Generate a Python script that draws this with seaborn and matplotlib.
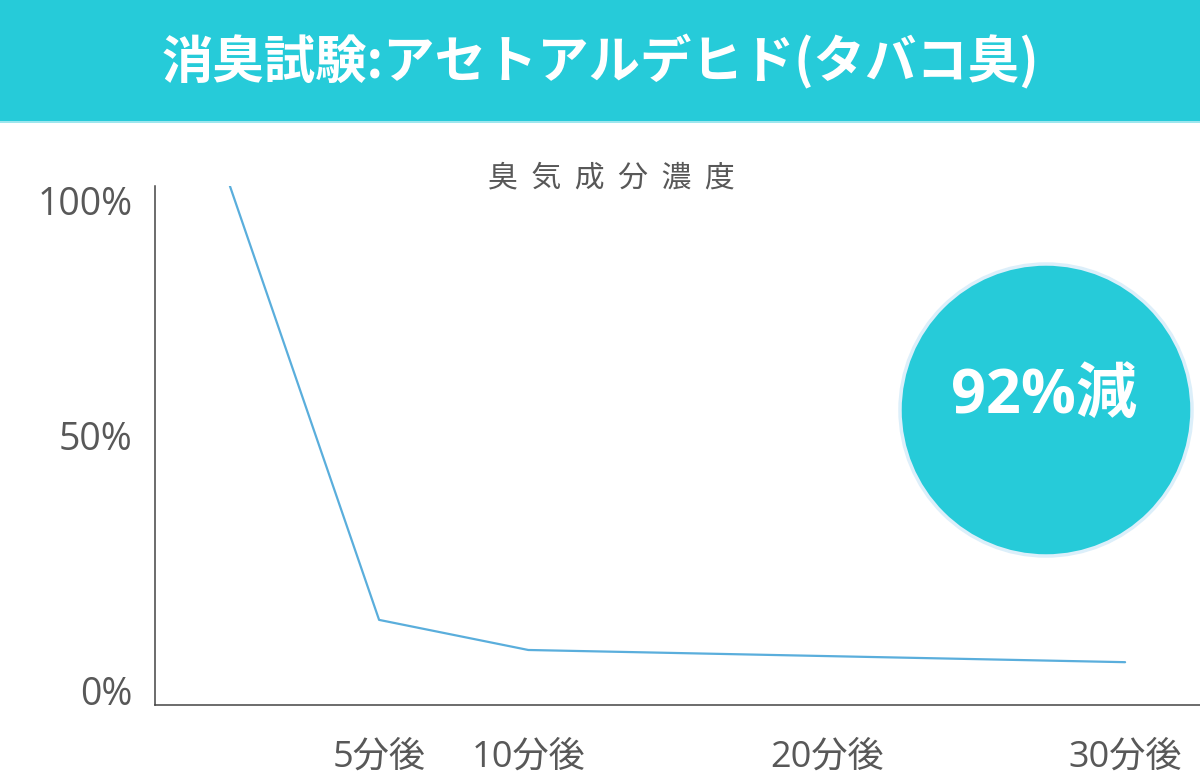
import matplotlib
matplotlib.use('Agg')
import matplotlib.pyplot as plt
import matplotlib.transforms as mtrans
import seaborn as sns
import pandas as pd
from matplotlib.patches import Circle, Rectangle

# data
minutes = [0, 5, 10, 30]
concentration = [100, 16.4, 10.6, 8.25]
xtick_pos = [5, 10, 20, 30]
xtick_labels = ['5分後', '10分後', '20分後', '30分後']
ytick_pos = [0, 50, 100]
ytick_labels = ['0%', '50%', '100%']
title = '消臭試験:アセトアルデヒド(タバコ臭)'
subtitle = '臭  気  成  分  濃  度'
badge = '92%減'

TEAL = '#26CBD9'
LINE = '#5AAEDC'
GRAY = '#585858'

sns.set_style('white')
plt.rcParams['font.family'] = ['Open Sans', 'Noto Sans CJK JP', 'DejaVu Sans']

df = pd.DataFrame({'minutes': minutes, 'conc': concentration})

fig = plt.figure(figsize=(12, 7.83), dpi=100)
ax = fig.add_axes([155/1200, 78/783, 1045/1200, 519/783])
sns.lineplot(data=df, x='minutes', y='conc', color=LINE, linewidth=1.6, ax=ax)
ax.set_xlim(-2.51, 32.51)
ax.set_ylim(0, 100)
ax.set_xlabel('')
ax.set_ylabel('')

for side in ['top', 'right']:
    ax.spines[side].set_visible(False)
for side in ['left', 'bottom']:
    ax.spines[side].set_color('#444444')
    ax.spines[side].set_linewidth(1.1)

ax.set_xticks(xtick_pos)
ax.set_xticklabels(xtick_labels, fontsize=26, color=GRAY)
ax.set_yticks(ytick_pos)
ax.set_yticklabels(ytick_labels, fontsize=27, color=GRAY)
ax.tick_params(axis='x', length=0, pad=25)
ax.tick_params(axis='y', length=0, pad=16)
ylabs = ax.get_yticklabels()
for lab, va in zip(ylabs, ['baseline', 'center_baseline', 'top']):
    lab.set_va(va)
# middle label sits a little above its tick in the original
ylabs[1].set_transform(ylabs[1].get_transform() +
                       mtrans.ScaledTranslation(0, 0.10, fig.dpi_scale_trans))

# header banner
fig.add_artist(Rectangle((0, 1 - 121/783), 1, 121/783, transform=fig.transFigure,
                         facecolor=TEAL, edgecolor='none'))
fig.add_artist(Rectangle((0, 1 - 123/783), 1, 2/783, transform=fig.transFigure,
                         facecolor='#9EE6EE', edgecolor='none'))
fig.text(0.5, 1 - 62/783, title, ha='center', va='center', color='white',
         fontsize=37, fontweight='bold', family=['Noto Sans CJK JP', 'DejaVu Sans'])

fig.text(611/1200, 1 - 178/783, subtitle, ha='center', va='center', color=GRAY,
         fontsize=21.5, family=['Noto Sans CJK JP', 'DejaVu Sans'])

# 92% badge
fig.add_artist(Circle((10.46, 3.73), 1.46, transform=fig.dpi_scale_trans,
                      facecolor=TEAL, edgecolor='#DCEFFA', linewidth=2.5))
fig.text(1044/1200, 1 - 397/783, badge, ha='center', va='center', color='white',
         fontsize=44, fontweight='bold')

fig.savefig('out.png', dpi=100)
